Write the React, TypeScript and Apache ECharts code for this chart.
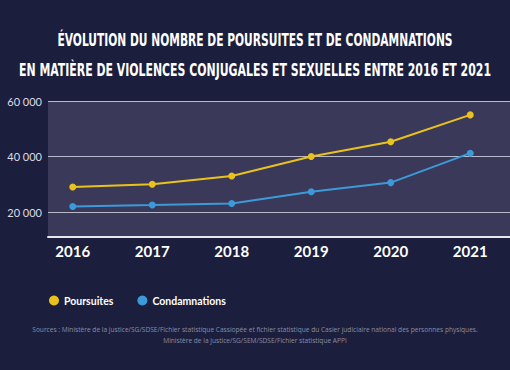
import React, { useEffect, useRef } from "react";
import * as echarts from "echarts";

const years = ["2016", "2017", "2018", "2019", "2020", "2021"];
const poursuites = [29000, 30000, 33000, 40000, 45300, 55000];
const condamnations = [22000, 22500, 23100, 27300, 30600, 41200];
const yTicks = [20000, 40000, 60000];
const yMin = 11000;
const yMax = 60000;
const titleLines = [
  "ÉVOLUTION DU NOMBRE DE POURSUITES ET DE CONDAMNATIONS",
  "EN MATIÈRE DE VIOLENCES CONJUGALES ET SEXUELLES ENTRE 2016 ET 2021",
];
const titleScales = [0.66, 0.675];
const sourceLines = [
  "Sources : Ministère de la justice/SG/SDSE/Fichier statistique Cassiopée et fichier statistique du Casier judiciaire national des personnes physiques.",
  "Ministère de la justice/SG/SEM/SDSE/Fichier statistique APPI",
];

const BG = "#1b1f3d";
const PLOT = "#3a3959";
const YELLOW = "#e9c31c";
const BLUE = "#3c9ad9";

const fmt = (v: number) => String(v).replace(/\B(?=(\d{3})+(?!\d))/g, " ");

export default function App() {
  const ref = useRef<HTMLDivElement>(null);
  useEffect(() => {
    if (!ref.current) return;
    const chart = echarts.init(ref.current, undefined, { renderer: "svg" });
    chart.setOption({
      animation: false,
      backgroundColor: BG,
      grid: [
        { left: 48, right: 0, top: 101, height: 136, show: true, backgroundColor: PLOT, borderWidth: 0 },
        { left: 33, width: 478, top: 101, height: 136 },
      ],
      xAxis: [
        {
          gridIndex: 0,
          type: "value",
          min: 0,
          max: 1,
          axisLabel: { show: false },
          axisTick: { show: false },
          splitLine: { show: false },
          axisLine: { show: true, onZero: false, lineStyle: { color: "#e6e6ee", width: 2 } },
        },
        {
          gridIndex: 1,
          type: "category",
          data: years,
          boundaryGap: true,
          axisLine: { show: false },
          axisTick: { show: false },
          axisLabel: {
            color: "#ffffff",
            fontFamily: "Lato",
            fontWeight: "bold",
            fontSize: 15,
            margin: 6,
          },
        },
      ],
      yAxis: [
        {
          gridIndex: 0,
          type: "value",
          min: yMin,
          max: yMax,
          axisLine: { show: false },
          axisTick: { show: false, customValues: yTicks },
          axisLabel: {
            customValues: yTicks,
            color: "#dcdce6",
            fontFamily: "Lato",
            fontSize: 11,
            margin: 6,
            formatter: (v: number) => fmt(v),
          },
          splitLine: { show: true, lineStyle: { color: "#b9b9cc", width: 1 } },
        },
        {
          gridIndex: 1,
          type: "value",
          min: yMin,
          max: yMax,
          show: false,
          splitLine: { show: false },
        },
      ],
      legend: {
        left: 44,
        top: 290,
        icon: "circle",
        itemWidth: 10,
        itemHeight: 10,
        itemGap: 24,
        textStyle: { color: "#ffffff", fontFamily: "Lato", fontWeight: "bold", fontSize: 10.5 },
        data: ["Poursuites", "Condamnations"],
      },
      series: [
        {
          name: "Poursuites",
          type: "line",
          xAxisIndex: 1,
          yAxisIndex: 1,
          data: poursuites,
          symbol: "circle",
          symbolSize: 7,
          color: YELLOW,
          lineStyle: { width: 2, color: YELLOW },
          itemStyle: { color: YELLOW },
        },
        {
          name: "Condamnations",
          type: "line",
          xAxisIndex: 1,
          yAxisIndex: 1,
          data: condamnations,
          symbol: "circle",
          symbolSize: 7,
          color: BLUE,
          lineStyle: { width: 2, color: BLUE },
          itemStyle: { color: BLUE },
        },
      ],
      graphic: [
        ...titleLines.map((t, i) => ({
          type: "group",
          x: 255,
          y: 40 + i * 30,
          scaleX: titleScales[i],
          children: [
            {
              type: "text",
              x: 0,
              y: 0,
              style: {
                text: t,
                fill: "#ffffff",
                fontFamily: "DejaVu Sans Condensed",
                fontWeight: "bold",
                fontSize: 18,
                textAlign: "center",
                textVerticalAlign: "middle",
              },
            },
          ],
        })),
        ...sourceLines.map((t, i) => ({
          type: "text",
          x: 255,
          y: 329 + i * 11,
          style: {
            text: t,
            fill: "#8a8da6",
            fontFamily: "Open Sans",
            fontSize: 6.6,
            textAlign: "center",
            textVerticalAlign: "middle",
          },
        })),
      ],
    });
    return () => chart.dispose();
  }, []);
  return (
    <div
      ref={ref}
      style={{ position: "fixed", left: 0, top: 0, width: 510, height: 370 }}
    />
  );
}
